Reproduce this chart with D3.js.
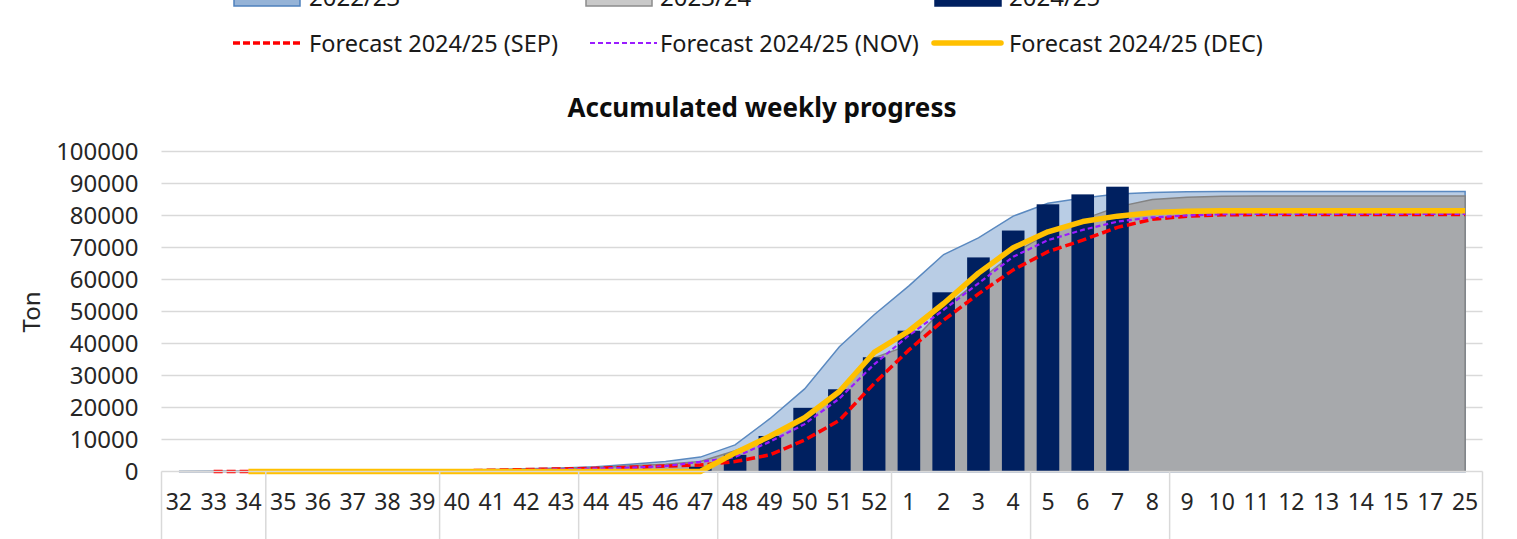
<!DOCTYPE html>
<html>
<head>
<meta charset="utf-8">
<script src="https://cdn.jsdelivr.net/npm/d3@7"></script>
<style>
  body { margin: 0; background: #fff; }
  svg { display: block; font-family: "Noto Sans", sans-serif; }
</style>
</head>
<body>
<script>
'use strict';

// week categories on the x axis
var weeks = ['32','33','34','35','36','37','38','39','40','41','42','43','44','45','46','47','48','49','50','51','52',
  '1','2','3','4','5','6','7','8','9','10','11','12','13','14','15','17','25'];

// number of weeks in each month group of the axis
var groupSizes = [3, 5, 4, 4, 5, 4, 4, 9];

var season2223 = [0,50,100,150,200,250,300,350,450,600,850,1100,1500,2300,3100,4500,8300,16500,25800,39000,49000,
  58000,67800,73000,79800,83800,85500,86700,87200,87400,87500,87500,87500,87500,87500,87500,87500,87500];

var season2324 = [0,0,50,100,150,200,250,300,400,500,700,900,1200,1800,2300,3100,6500,10700,17000,25000,35500,
  39500,51000,59500,68000,74500,78800,82700,85000,85700,86000,86100,86100,86100,86100,86100,86100,86100];

var season2425 = [null,null,null,null,null,null,null,null,null,null,null,null,null,null,null,1500,5200,11100,19900,25700,35700,
  44000,56000,66900,75300,83500,86600,89000,null,null,null,null,null,null,null,null,null,null];

var forecastSep = [null,0,0,0,0,0,50,100,200,400,600,800,1000,1300,1700,2000,3100,5200,9800,16000,27500,
  38000,47300,55500,63000,68700,72300,76300,78800,79800,80200,80300,80300,80300,80300,80300,80300,80300];

var forecastNov = [null,null,0,0,0,0,0,50,100,300,500,700,900,1200,1700,3000,4500,9300,14800,22800,33500,
  42500,50500,58800,67100,72300,75500,78100,79400,80000,80400,80500,80500,80500,80500,80500,80500,80500];

var forecastDec = [null,null,0,0,0,0,0,0,0,0,0,0,0,0,0,0,5800,11000,16800,25000,37200,
  43900,52500,62000,69900,74900,78100,79800,80900,81300,81500,81500,81500,81500,81500,81500,81500,81500];

var yTicks = [0,10000,20000,30000,40000,50000,60000,70000,80000,90000,100000];

draw();

function draw(){
  var width = 1517, height = 539;
  var plotLeft = 161.5, plotRight = 1482.5, plotTop = 151.5, plotBottom = 471.5;

  var svg = d3.select('body').append('svg')
    .attr('width', width)
    .attr('height', height);

  var x = d3.scaleBand().domain(weeks).range([plotLeft, plotRight]).padding(0);
  var bw = x.bandwidth();
  var cx = function(i){ return x(weeks[i]) + bw / 2; };
  var y = d3.scaleLinear().domain([0, 100000]).range([plotBottom, plotTop]);

  // gridlines
  svg.append('g').selectAll('line')
    .data(yTicks.slice(1))
    .enter().append('line')
    .attr('x1', plotLeft).attr('x2', plotRight)
    .attr('y1', function(d){ return y(d); })
    .attr('y2', function(d){ return y(d); })
    .attr('stroke', '#d9d9d9')
    .attr('stroke-width', 1.5);

  // y axis labels
  var yAxis = svg.append('g')
    .attr('transform', 'translate(' + (plotLeft - 23) + ',0)')
    .call(d3.axisLeft(y).tickValues(yTicks).tickSize(0).tickPadding(0).tickFormat(d3.format('d')));
  yAxis.select('.domain').remove();
  yAxis.selectAll('text')
    .attr('font-size', 24)
    .attr('font-family', '"Noto Sans", sans-serif')
    .attr('fill', '#262626');

  svg.append('text')
    .attr('transform', 'translate(40,312) rotate(-90)')
    .attr('text-anchor', 'middle')
    .attr('font-size', 24)
    .attr('fill', '#262626')
    .text('Ton');

  svg.append('text')
    .attr('x', 762).attr('y', 117)
    .attr('text-anchor', 'middle')
    .attr('font-size', 26)
    .attr('font-weight', 'bold')
    .attr('fill', '#0d0d0d')
    .text('Accumulated weekly progress');

  // areas
  var area = function(vals){
    return d3.area()
      .x(function(d, i){ return cx(i); })
      .y0(y(0))
      .y1(function(d){ return y(d); })(vals);
  };

  svg.append('path')
    .attr('d', area(season2223))
    .attr('fill', '#b9cde5')
    .attr('stroke', '#5a89c0')
    .attr('stroke-width', 1.5);

  svg.append('path')
    .attr('d', area(season2324))
    .attr('fill', '#a7a9ac')
    .attr('stroke', '#838383')
    .attr('stroke-width', 1.5);

  // bars
  svg.append('g').selectAll('rect')
    .data(season2425.map(function(v, i){ return {v: v, i: i}; }).filter(function(d){ return d.v !== null; }))
    .enter().append('rect')
    .attr('x', function(d){ return x(weeks[d.i]) + bw * 0.175; })
    .attr('width', bw * 0.65)
    .attr('y', function(d){ return y(d.v); })
    .attr('height', function(d){ return y(0) - y(d.v); })
    .attr('fill', '#002060');

  // forecast lines
  var line = d3.line()
    .defined(function(d){ return d !== null; })
    .x(function(d, i){ return cx(i); })
    .y(function(d){ return y(d); });

  svg.append('path')
    .attr('d', line(forecastSep))
    .attr('fill', 'none')
    .attr('stroke', '#ff0000')
    .attr('stroke-width', 3.5)
    .attr('stroke-dasharray', '9,4');

  svg.append('path')
    .attr('d', line(forecastNov))
    .attr('fill', 'none')
    .attr('stroke', '#9a1cff')
    .attr('stroke-width', 2.2)
    .attr('stroke-dasharray', '5,3');

  svg.append('path')
    .attr('d', line(forecastDec))
    .attr('fill', 'none')
    .attr('stroke', '#ffc000')
    .attr('stroke-width', 5.5)
    .attr('stroke-linejoin', 'round');

  // x axis
  svg.append('line')
    .attr('x1', plotLeft).attr('x2', plotRight)
    .attr('y1', plotBottom).attr('y2', plotBottom)
    .attr('stroke', '#d9d9d9').attr('stroke-width', 1.5);

  var bounds = [0];
  groupSizes.forEach(function(n){ bounds.push(bounds[bounds.length - 1] + n); });
  svg.append('g').selectAll('line')
    .data(bounds)
    .enter().append('line')
    .attr('x1', function(d){ return plotLeft + d * bw; })
    .attr('x2', function(d){ return plotLeft + d * bw; })
    .attr('y1', plotBottom).attr('y2', height)
    .attr('stroke', '#d9d9d9').attr('stroke-width', 1.5);

  svg.append('g').selectAll('text')
    .data(weeks)
    .enter().append('text')
    .attr('x', function(d, i){ return cx(i); })
    .attr('y', 510)
    .attr('text-anchor', 'middle')
    .attr('font-size', 23)
    .attr('fill', '#262626')
    .text(function(d){ return d; });

  // legend
  var legendTop = [
    {label: '2022/23', fill: '#95b3d7', stroke: '#4f81bd', x: 234, tx: 309},
    {label: '2023/24', fill: '#c9c9c9', stroke: '#8c8c8c', x: 586, tx: 660},
    {label: '2024/25', fill: '#002060', stroke: '#002060', x: 935, tx: 1009}
  ];
  legendTop.forEach(function(d){
    svg.append('rect')
      .attr('x', d.x).attr('y', -10).attr('width', 66).attr('height', 16)
      .attr('fill', d.fill).attr('stroke', d.stroke).attr('stroke-width', 1.5);
    svg.append('text')
      .attr('x', d.tx).attr('y', 6)
      .attr('font-size', 24).attr('fill', '#1a1a1a')
      .text(d.label);
  });

  var legendLines = [
    {label: 'Forecast 2024/25 (SEP)', color: '#ff0000', w: 3.5, dash: '7,3', x: 233, tx: 309},
    {label: 'Forecast 2024/25 (NOV)', color: '#9a1cff', w: 2.2, dash: '5,3', x: 590, tx: 660},
    {label: 'Forecast 2024/25 (DEC)', color: '#ffc000', w: 5.5, dash: null, x: 934, tx: 1009}
  ];
  legendLines.forEach(function(d){
    svg.append('line')
      .attr('x1', d.x).attr('x2', d.x + 67)
      .attr('y1', 43).attr('y2', 43)
      .attr('stroke', d.color).attr('stroke-width', d.w)
      .attr('stroke-linecap', d.dash ? 'butt' : 'round')
      .attr('stroke-dasharray', d.dash);
    svg.append('text')
      .attr('x', d.tx).attr('y', 52)
      .attr('font-size', 23.5).attr('fill', '#1a1a1a')
      .text(d.label);
  });
}
</script>
</body>
</html>
